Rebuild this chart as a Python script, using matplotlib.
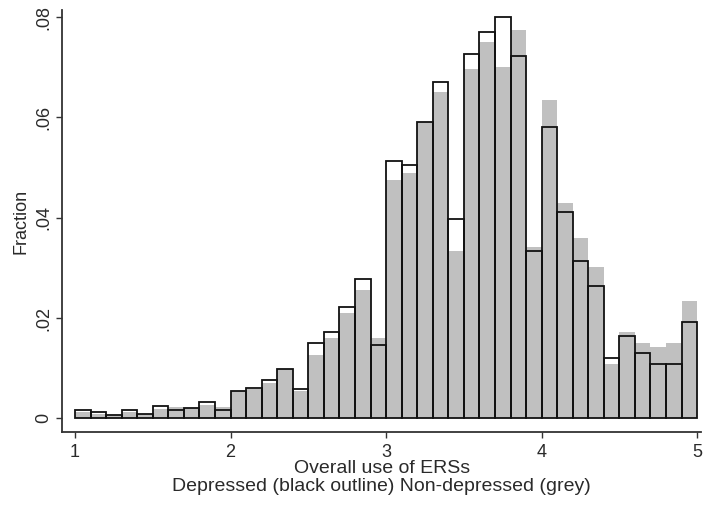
import numpy as np
import matplotlib.pyplot as plt

plt.rcParams['font.family'] = ['Liberation Sans', 'DejaVu Sans']

# bin left edges (width 0.1) from 1.0 to 4.9
bin_left = np.round(np.arange(1.0, 5.0, 0.1), 1)

# depressed (black outline)
depressed = [0.0016, 0.0012, 0.0007, 0.0017, 0.0009, 0.0025, 0.0016, 0.0020, 0.0032, 0.0016,
             0.0055, 0.0060, 0.0077, 0.0099, 0.0059, 0.0150, 0.0172, 0.0223, 0.0278, 0.0146,
             0.0514, 0.0506, 0.0591, 0.0671, 0.0397, 0.0726, 0.0771, 0.0800, 0.0722, 0.0334,
             0.0580, 0.0412, 0.0314, 0.0264, 0.0121, 0.0164, 0.0130, 0.0109, 0.0109, 0.0192]

# non-depressed (grey)
nondepressed = [0.0012, 0.0008, 0.0007, 0.0013, 0.0008, 0.0019, 0.0022, 0.0020, 0.0027, 0.0022,
                0.0054, 0.0058, 0.0070, 0.0099, 0.0055, 0.0127, 0.0160, 0.0210, 0.0256, 0.0161,
                0.0475, 0.0490, 0.0591, 0.0651, 0.0334, 0.0696, 0.0751, 0.0701, 0.0775, 0.0342,
                0.0635, 0.0430, 0.0359, 0.0302, 0.0108, 0.0172, 0.0151, 0.0143, 0.0151, 0.0235]

fig = plt.figure(figsize=(7.04, 5.05), dpi=100)
ax = fig.add_axes([0.088, 0.1446, 0.908, 0.8354])

ax.bar(bin_left, nondepressed, width=0.1, align='edge', color='#c0c0c0', linewidth=0)
ax.bar(bin_left, depressed, width=0.1, align='edge', facecolor='none',
       edgecolor='#111111', linewidth=1.3)

ax.set_xlim(0.916, 5.026)
ax.set_ylim(-0.0027, 0.0814)

ax.set_xticks([1, 2, 3, 4, 5])
ax.set_xticklabels(['1', '2', '3', '4', '5'])
ax.set_yticks([0, 0.02, 0.04, 0.06, 0.08])
ax.set_yticklabels(['0', '.02', '.04', '.06', '.08'], rotation=90, va='center')

for s in ['top', 'right']:
    ax.spines[s].set_visible(False)
for s in ['left', 'bottom']:
    ax.spines[s].set_color('#333333')
    ax.spines[s].set_linewidth(1.3)

ax.tick_params(direction='out', length=4, width=1, color='#333333',
               labelsize=13, labelcolor='#2a2a2a')
ax.tick_params(axis='x', pad=5)
ax.tick_params(axis='y', pad=3)

ax.set_ylabel('Fraction', fontsize=13, color='#2a2a2a', labelpad=4)
ax.set_xlabel('Overall use of ERSs\nDepressed (black outline) Non-depressed (grey)',
              fontsize=14, color='#2a2a2a', linespacing=1.05, labelpad=-1)

fig.savefig('out.png', dpi=100)
